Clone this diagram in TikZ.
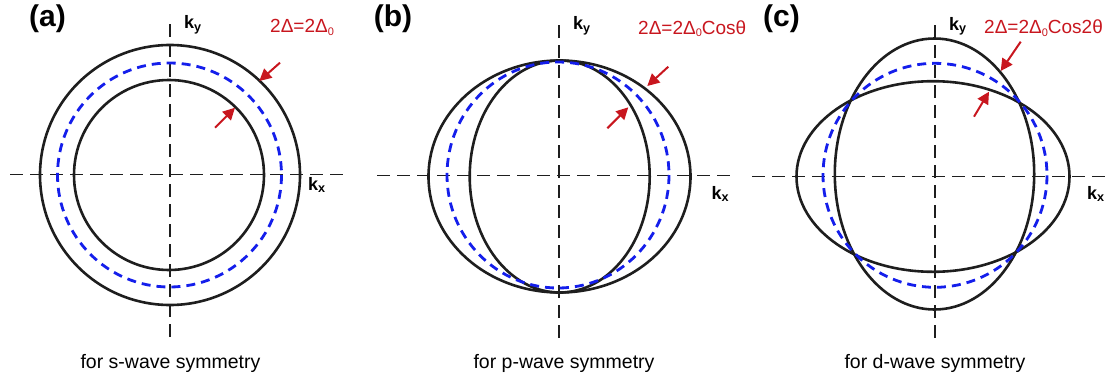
\documentclass[tikz,border=0pt]{standalone}
\usepackage{fontspec}
\setmainfont{Liberation Sans}
\usetikzlibrary{arrows.meta}
\definecolor{gapred}{RGB}{200,22,30}
\definecolor{fsblue}{RGB}{20,30,235}
\definecolor{lineblack}{RGB}{30,30,30}
\newcommand{\subz}{{\fontsize{11}{11}\selectfont\raisebox{-2.5pt}{0}}}
\tikzset{
  axis/.style={draw=lineblack, line width=1.4pt, dash pattern=on 13pt off 7pt},
  fermi/.style={draw=lineblack, line width=2.6pt},
  avg/.style={draw=fsblue, line width=2.8pt, dash pattern=on 9pt off 6pt},
  gaparrow/.style={draw=gapred, line width=2pt, -{Triangle[length=12pt,width=12pt]}},
  panellabel/.style={font=\fontsize{30}{30}\selectfont\bfseries, inner sep=0pt},
  klabel/.style={font=\fontsize{18}{18}\selectfont\bfseries, inner sep=0pt, anchor=base west},
  gaplabel/.style={font=\fontsize{19}{19}\selectfont, text=gapred, inner sep=0pt, anchor=base west},
  caption/.style={font=\fontsize{19.5}{19.5}\selectfont, inner sep=0pt, anchor=base}
}
\begin{document}
\begin{tikzpicture}[x=1pt,y=-1pt]
\useasboundingbox (0,0) rectangle (1114,378);
% ---------------- panel (a)
\draw[axis] (170,24) -- (170,342);
\draw[axis] (10,174.5) -- (345,174.5);
\draw[fermi] (170,175) circle (130);
\draw[fermi] (169,175) circle (95);
\draw[avg] (169.5,175) circle (112);
\node[panellabel] (la) at (47.5,19) {(a)};
\node[klabel] (kya) at (184,28.5) {k\textsubscript{y}};
\node[klabel] (kxa) at (308,190) {k\textsubscript{x}};
\node[gaplabel] (ga) at (270,32.5) {2Δ=2Δ\subz};
\node[caption] (ca) at (170.5,368.5) {for s-wave symmetry};
\coordinate (a1s) at (280,62.7); \coordinate (a1e) at (259.3,81);
\coordinate (a2s) at (215,127.7); \coordinate (a2e) at (235,107.7);
\draw[gaparrow] (a1s) -- (a1e);
\draw[gaparrow] (a2s) -- (a2e);
% ---------------- panel (b)
\draw[axis] (559,25) -- (559,342);
\draw[axis] (377,175.7) -- (733,175.7);
\draw[fermi] (559.5,176.5) ellipse (131 and 116);
\draw[fermi] (559.7,176.5) ellipse (90 and 116);
\draw[avg] (558,175) ellipse (111 and 113);
\node[panellabel] (lb) at (393,19) {(b)};
\node[klabel] (kyb) at (573,29.5) {k\textsubscript{y}};
\node[klabel] (kxb) at (711.5,199.3) {k\textsubscript{x}};
\node[gaplabel] (gb) at (638,34) {2Δ=2Δ\subz Cosθ};
\node[caption] (cb) at (564,368.5) {for p-wave symmetry};
\coordinate (b1s) at (668.3,66.7); \coordinate (b1e) at (647.3,86);
\coordinate (b2s) at (607.3,128.3); \coordinate (b2e) at (628.3,107.3);
\draw[gaparrow] (b1s) -- (b1e);
\draw[gaparrow] (b2s) -- (b2e);
% ---------------- panel (c)
\draw[axis] (935,25) -- (935,343);
\draw[axis] (752,176.7) -- (1111,176.7);
\draw[fermi] (933,176.5) ellipse (136.5 and 95.3);
\draw[fermi] (934.5,174) ellipse (99.7 and 135.5);
\draw[avg] (935,175.3) circle (112);
\node[panellabel] (lc) at (781.5,19) {(c)};
\node[klabel] (kyc) at (949,30) {k\textsubscript{y}};
\node[klabel] (kxc) at (1087,199.3) {k\textsubscript{x}};
\node[gaplabel] (gc) at (984,33.5) {2Δ=2Δ\subz Cos2θ};
\node[caption] (cc) at (935,368.5) {for d-wave symmetry};
\coordinate (c1s) at (1020.7,41.7); \coordinate (c1e) at (1000.7,71);
\coordinate (c2s) at (974,116.7); \coordinate (c2e) at (989,91.7);
\draw[gaparrow] (c1s) -- (c1e);
\draw[gaparrow] (c2s) -- (c2e);
\end{tikzpicture}
\end{document}
